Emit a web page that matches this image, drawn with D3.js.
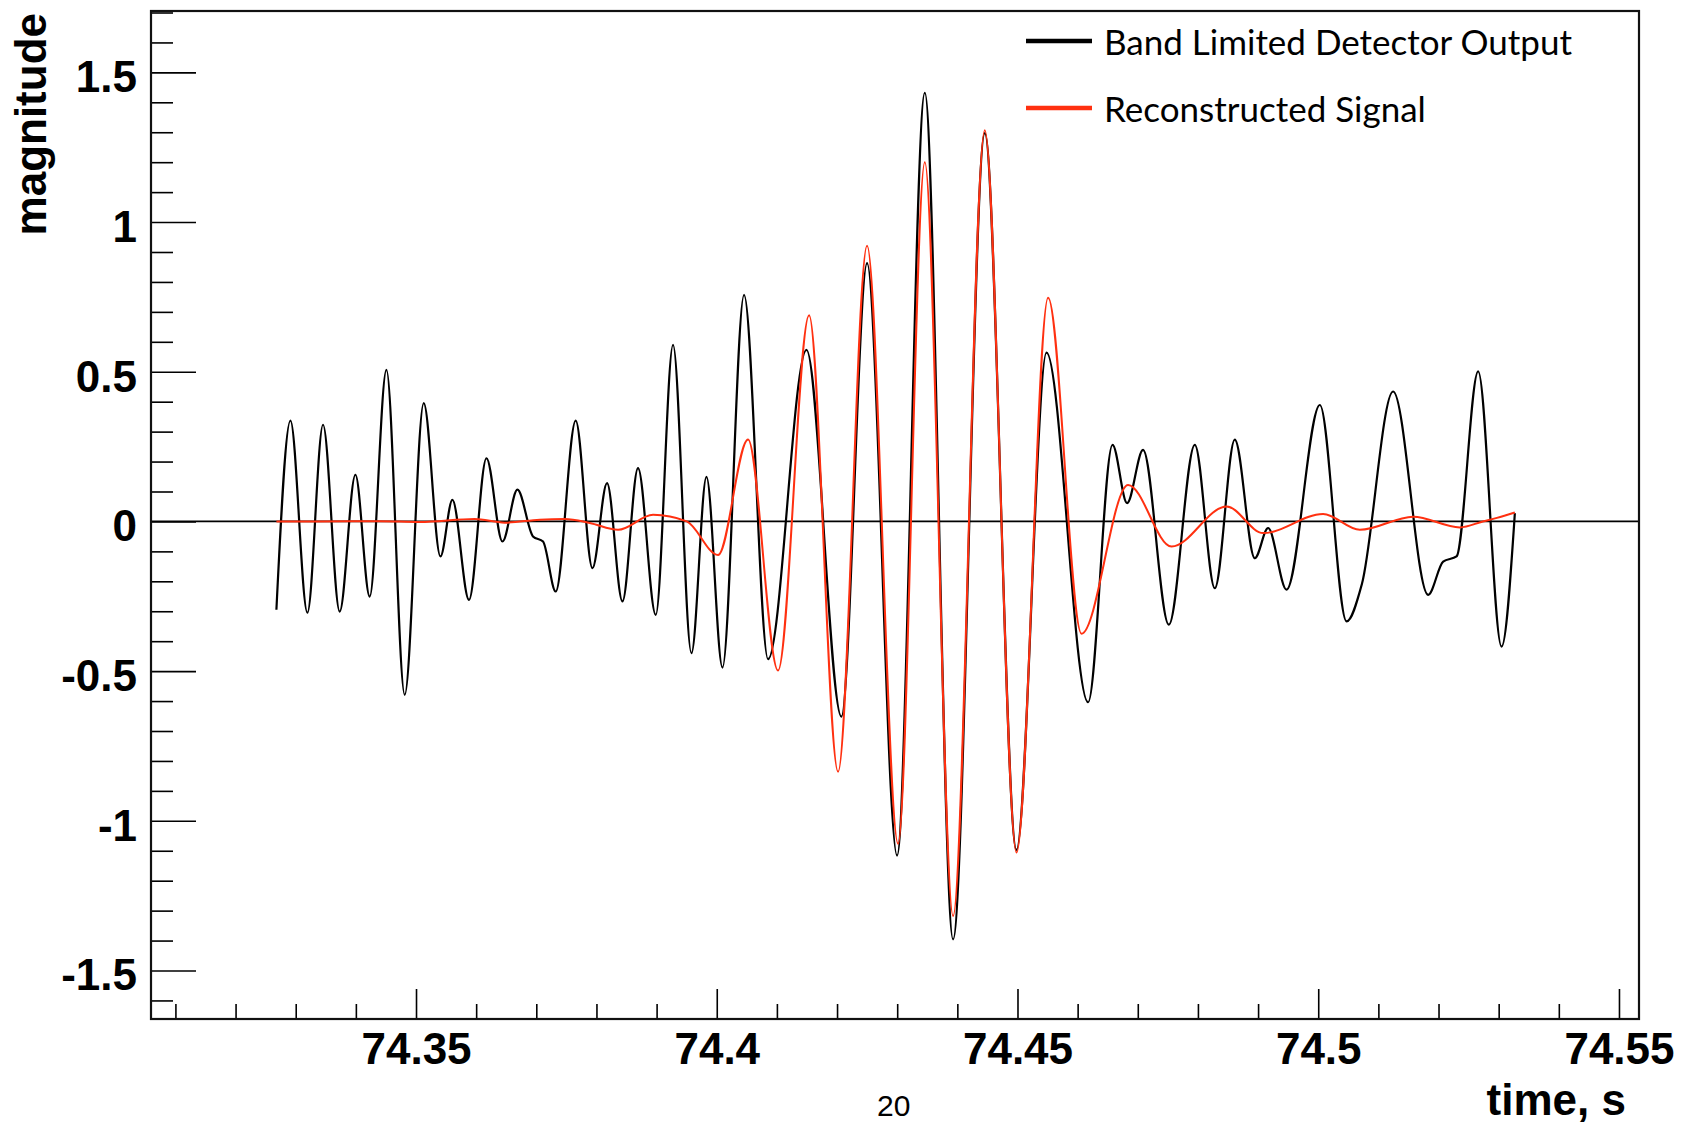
<!DOCTYPE html>
<html><head><meta charset="utf-8">
<script src="https://cdn.jsdelivr.net/npm/d3@7"></script>
<style>html,body{margin:0;padding:0;background:#fff;overflow:hidden}</style>
</head><body><svg id="chart" width="1681" height="1125"></svg>
<script>
// ---- data (extrema and shape points) ----
const detectorTime = [74.32679,74.32912,74.33194,74.33454,74.33731,74.33992,74.34230,74.34508,74.34812,74.35128,
  74.35406,74.35605,74.35881,74.36171,74.36437,74.36686,74.36945,74.37112,74.37323,74.37655,
  74.37933,74.38176,74.38432,74.38691,74.38986,74.39273,74.39579,74.39829,74.40095,74.40454,
  74.40853,74.41492,74.42073,74.42499,74.42998,74.43459,74.43929,74.44456,74.44983,74.45482,
  74.46174,74.46580,74.46822,74.47088,74.47516,74.47948,74.48281,74.48613,74.48946,74.49167,
  74.49473,74.50027,74.50471,74.50725,74.51245,74.51827,74.52077,74.52300,74.52659,74.53048,74.53269];
const detectorValue = [-0.295,0.337,-0.305,0.323,-0.301,0.156,-0.251,0.506,-0.579,0.395,
  -0.117,0.072,-0.262,0.211,-0.067,0.106,-0.050,-0.067,-0.234,0.337,
  -0.156,0.128,-0.267,0.178,-0.312,0.590,-0.440,0.149,-0.488,0.757,
  -0.460,0.573,-0.652,0.863,-1.116,1.432,-1.396,1.297,-1.097,0.564,
  -0.604,0.256,0.061,0.239,-0.345,0.256,-0.223,0.273,-0.123,-0.022,
  -0.228,0.389,-0.334,-0.210,0.434,-0.245,-0.134,-0.117,0.501,-0.418,0.028];

const reconTime = [74.32679,74.33399,74.34396,74.35062,74.35976,74.36475,74.37057,74.37473,74.37888,74.38359,
  74.38941,74.39501,74.40022,74.40520,74.41019,74.41535,74.42017,74.42499,74.43015,74.43459,
  74.43929,74.44456,74.44983,74.45509,74.46064,74.46839,74.47561,74.48475,74.49084,74.50081,
  74.50692,74.51578,74.52355,74.52737,74.52970,74.53269];
const reconValue = [0.000,0.000,0.001,-0.002,0.008,-0.004,0.006,0.008,-0.005,-0.028,
  0.022,0.000,-0.112,0.274,-0.498,0.689,-0.836,0.921,-1.077,1.200,
  -1.318,1.307,-1.106,0.747,-0.375,0.122,-0.084,0.050,-0.039,0.025,
  -0.028,0.016,-0.020,0.000,0.012,0.030];

const xMajorTicks = [74.35, 74.4, 74.45, 74.5, 74.55];
const xTickLabels = ["74.35", "74.4", "74.45", "74.5", "74.55"];
const yMajorTicks = [-1.5, -1, -0.5, 0, 0.5, 1, 1.5];
const yTickLabels = ["-1.5", "-1", "-0.5", "0", "0.5", "1", "1.5"];
const legendLabels = ["Band Limited Detector Output", "Reconstructed Signal"];
const seriesColors = ["#000000", "#ff3010"];

// ---- layout ----
const frame = {left: 151, right: 1639, top: 11, bottom: 1019};
const svg = d3.select("#chart");

const x = d3.scaleLinear().domain([74.30594, 74.55333]).range([frame.left, frame.right]);
const y = d3.scaleLinear().domain([-1.662, 1.705]).range([frame.bottom, frame.top]);

const bold = "'Liberation Sans', Arial, Helvetica, sans-serif";

// zero line
svg.append("line")
  .attr("x1", frame.left).attr("x2", frame.right)
  .attr("y1", y(0)).attr("y2", y(0))
  .attr("stroke", "#000").attr("stroke-width", 1.8);

// curves
const detector = detectorTime.map((t, i) => ({t, v: detectorValue[i]}));
const recon = reconTime.map((t, i) => ({t, v: reconValue[i]}));
const line = d3.line().x(d => x(d.t)).y(d => y(d.v)).curve(d3.curveMonotoneX);

svg.append("path").datum(detector).attr("d", line)
  .attr("fill", "none").attr("stroke", seriesColors[0]).attr("stroke-width", 2.2);
svg.append("path").datum(recon).attr("d", line)
  .attr("fill", "none").attr("stroke", seriesColors[1]).attr("stroke-width", 2.0);

// y axis
const yMinor = d3.range(-16, 18).map(k => k / 10).filter(v => yMajorTicks.indexOf(v) < 0);
svg.append("g").attr("transform", `translate(${frame.left},0)`)
  .call(d3.axisLeft(y).tickValues(yMinor).tickSize(-22).tickFormat(""))
  .call(g => g.select(".domain").remove())
  .call(g => g.selectAll("line").attr("stroke", "#000").attr("stroke-width", 1.6));
svg.append("g").attr("transform", `translate(${frame.left},0)`)
  .call(d3.axisLeft(y).tickValues(yMajorTicks).tickSize(-45).tickPadding(14)
    .tickFormat((d, i) => yTickLabels[i]))
  .call(g => g.select(".domain").remove())
  .call(g => g.selectAll("line").attr("stroke", "#000").attr("stroke-width", 1.6))
  .call(g => g.selectAll("text").attr("font-family", bold).attr("font-weight", "bold")
    .attr("font-size", 44).attr("fill", "#000").attr("dy", "0.44em"));

// x axis
const xMinor = d3.range(7431, 7456).map(k => k / 100).filter(v => !xMajorTicks.some(m => Math.abs(m - v) < 1e-6));
svg.append("g").attr("transform", `translate(0,${frame.bottom})`)
  .call(d3.axisBottom(x).tickValues(xMinor).tickSize(-15).tickFormat(""))
  .call(g => g.select(".domain").remove())
  .call(g => g.selectAll("line").attr("stroke", "#000").attr("stroke-width", 1.6));
svg.append("g").attr("transform", `translate(0,${frame.bottom})`)
  .call(d3.axisBottom(x).tickValues(xMajorTicks).tickSize(-30).tickPadding(14)
    .tickFormat((d, i) => xTickLabels[i]))
  .call(g => g.select(".domain").remove())
  .call(g => g.selectAll("line").attr("stroke", "#000").attr("stroke-width", 1.6))
  .call(g => g.selectAll("text").attr("font-family", bold).attr("font-weight", "bold")
    .attr("font-size", 44).attr("fill", "#000"));

// frame
svg.append("rect")
  .attr("x", frame.left).attr("y", frame.top)
  .attr("width", frame.right - frame.left).attr("height", frame.bottom - frame.top)
  .attr("fill", "none").attr("stroke", "#111").attr("stroke-width", 2.2);

// axis titles
svg.append("text")
  .attr("transform", "translate(46,13) rotate(-90)")
  .attr("text-anchor", "end")
  .attr("font-family", bold).attr("font-weight", "bold").attr("font-size", 44)
  .text("magnitude");
svg.append("text")
  .attr("x", 1626).attr("y", 1115)
  .attr("text-anchor", "end")
  .attr("font-family", bold).attr("font-weight", "bold").attr("font-size", 44)
  .text("time, s");

// legend
const legend = svg.append("g");
legendLabels.forEach((lab, i) => {
  const yy = 41 + i * 67;
  legend.append("line").attr("x1", 1026).attr("x2", 1092).attr("y1", yy).attr("y2", yy)
    .attr("stroke", seriesColors[i]).attr("stroke-width", 4.5);
  legend.append("text").attr("x", 1104).attr("y", yy + 14)
    .attr("font-family", "Lato, 'Open Sans', sans-serif").attr("font-size", 35)
    .attr("fill", "#000").text(lab);
});

// page number
svg.append("text").attr("x", 877).attr("y", 1116)
  .attr("font-family", "'Liberation Sans Narrow', 'Liberation Sans', sans-serif")
  .attr("font-size", 30).attr("fill", "#000").text("20");
</script>
</body></html>
